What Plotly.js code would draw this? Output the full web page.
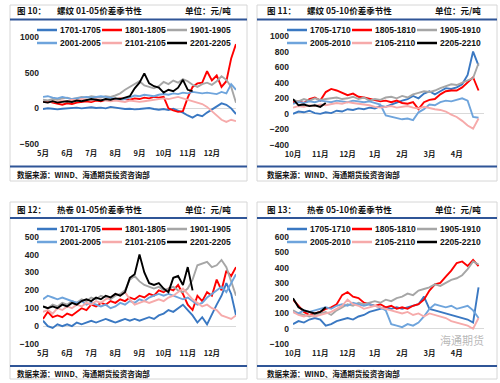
<!DOCTYPE html>
<html><head><meta charset="utf-8">
<script src="https://cdn.plot.ly/plotly-3.0.1.min.js"></script>
<style>html,body{margin:0;padding:0;background:#fff}#chart{width:500px;height:383px}</style>
</head><body><div id="chart"></div>
<script>
// ---------------- DATA ----------------
// labels
const labels0105 = ['1701-1705','1801-1805','1901-1905','2001-2005','2101-2105','2201-2205'];
const labels0510 = ['1705-1710','1805-1810','1905-1910','2005-2010','2105-2110','2205-2210'];
const figNums = ['图 10：','图 11：','图 12：','图 13：'];
const titles = ['螺纹 01-05价差季节性','螺纹 05-10价差季节性','热卷 01-05价差季节性','热卷 05-10价差季节性'];
const unitText = '单位：元/吨';
const sourceText = '数据来源：WIND、海通期货投资咨询部';
const watermark = '海通期货';
// month ticks (x in month units; 13-16 = next year's Jan-Apr)
const ticksA = [5,6,7,8,9,10,11,12];
const tickTextA = ['5月','6月','7月','8月','9月','10月','11月','12月'];
const ticksB = [10,11,12,13,14,15,16];
const tickTextB = ['10月','11月','12月','1月','2月','3月','4月'];

// Panel 1: 螺纹 01-05 (sampled every 0.2 month from May 1)
const p1_1701 = [-10,0,-5,-15,-5,0,5,10,0,10,15,5,10,0,20,10,0,-10,-5,-15,-10,-5,5,-10,-20,-10,-25,-5,-30,-60,-100,-130,-90,-110,-60,-20,30,70,50,0,-80];
const p1_1801 = [90,100,80,60,50,70,60,80,90,100,90,110,100,120,110,120,140,130,120,140,130,150,140,160,150,160,0,-30,-50,-40,150,300,350,360,520,390,460,300,380,700,900];
const p1_1901 = [120,110,130,120,140,150,130,150,160,150,170,160,150,170,160,180,210,260,300,330,380,320,300,280,310,370,340,390,360,410,380,330,300,340,360,330,380,450,400,300,80];
const p1_2001 = [160,170,150,140,160,150,130,140,150,160,150,160,170,160,150,140,120,130,150,180,170,190,180,170,190,200,190,210,200,220,210,230,220,210,220,210,200,230,210,340,260];
const p1_2101 = [90,80,100,90,110,100,120,110,130,120,110,130,120,110,100,110,100,90,110,100,90,100,110,120,130,140,130,150,160,140,120,100,80,60,20,-40,-110,-160,-190,-160,-180];
const p1_2201 = [90,80,100,80,90,100,90,110,100,120,130,120,110,130,120,140,130,150,170,280,360,490,350,310,290,220,260,240,290,400,260,240];

// Panel 2: 螺纹 05-10 (every 0.2 month from Oct 1)
const p2_1705 = [0,30,20,40,10,0,20,10,40,30,60,50,70,60,80,70,100,90,120,150,170,190,230,200,260,290,250,290,330,320,340,380,500,800,620];
const p2_1805 = [150,160,140,190,210,170,280,320,300,270,240,260,220,210,190,180,160,170,150,170,140,130,150,60,150,180,190,250,290,300,300,340,400,470,300];
const p2_1905 = [180,160,190,170,200,180,190,200,210,190,200,220,190,210,170,190,180,210,220,200,230,210,250,270,290,280,300,330,360,380,370,400,420,460,650];
const p2_2005 = [130,150,140,160,150,170,160,150,170,160,150,170,160,150,160,140,120,-20,-40,-50,-70,-60,-80,20,60,120,110,150,170,160,180,200,170,-40,-50];
const p2_2105 = [80,100,90,110,100,120,110,130,140,130,150,140,130,120,110,90,80,90,100,80,90,100,80,70,90,70,60,50,30,-10,-40,-90,-150,-190,-60];
const p2_2205 = [190,110,120,100,110,90,140];

// Panel 3: 热卷 01-05
const p3_1701 = [30,0,-10,10,0,10,0,20,10,20,30,20,30,40,30,20,30,40,30,40,30,40,50,40,60,70,90,80,100,120,90,60,20,50,10,70,120,170,240,180,60];
const p3_1801 = [40,80,50,60,50,70,60,80,100,90,120,110,130,120,140,130,150,140,160,150,170,160,180,170,200,190,210,200,230,180,120,90,170,140,190,170,260,200,310,280,330];
const p3_1901 = [110,100,120,110,130,120,140,130,150,140,160,150,170,160,150,170,180,200,260,280,250,230,220,210,220,200,210,220,200,190,210,260,340,350,360,330,340,370,330,250,170];
const p3_2001 = [150,170,160,150,160,150,140,130,140,120,130,120,110,120,100,110,130,120,140,130,150,140,160,170,180,170,180,170,160,150,160,140,120,130,160,180,200,220,190,240,290];
const p3_2101 = [80,90,70,100,90,110,100,120,110,130,120,140,130,150,160,180,170,190,150,120,130,140,130,140,150,140,160,170,190,210,180,150,130,110,120,100,90,60,50,40,60];
const p3_2201 = [110,100,110,100,120,110,130,120,140,150,140,160,150,170,160,180,170,190,270,290,400,300,240,230,240,210,190,270,280,230,330,200];

// Panel 4: 热卷 05-10
const p4_1705 = [30,50,40,60,70,60,20,30,50,60,70,60,80,90,110,120,130,140,130,140,130,140,150,160,210,130,120,110,100,90,80,70,60,40,270];
const p4_1805 = [190,150,110,90,100,110,130,140,160,220,240,210,200,170,160,150,160,140,150,130,140,130,150,160,190,250,290,300,340,380,430,440,410,450,410];
const p4_1905 = [120,100,90,80,90,100,110,90,120,140,160,150,170,160,170,180,170,190,180,200,210,230,220,250,260,270,290,280,300,320,330,350,390,440,420];
const p4_2005 = [110,100,120,110,120,130,140,130,150,160,150,170,160,150,160,150,140,120,30,20,10,30,20,40,80,130,160,150,140,150,130,140,150,120,70];
const p4_2105 = [110,90,80,90,80,90,100,110,130,150,190,160,150,130,140,150,140,130,120,110,100,110,90,100,80,100,90,80,70,50,40,30,20,0,70];
const p4_2205 = [200,140,120,110,100,110,140];

// ---------------- STYLE / LAYOUT ----------------
const W = 500, H = 383;
const px = x => x / W, py = y => 1 - y / H;
const colors = ['#3A78C2', '#FF0000', '#A6A6A6', '#6EA4DC', '#F6AAAA', '#000000'];
const navy = '#2F5597';
const frameCol = '#D6D6D6';
const latin = 'Liberation Sans, Arial, sans-serif';
const cjk = 'Noto Sans CJK SC, sans-serif';
const STEP = 0.2;

const panels = [
  {series:[p1_1701,p1_1801,p1_1901,p1_2001,p1_2101,p1_2201], labels:labels0105, x0:5, xr:[5,13], yr:[-500,1000], dt:500,
   tv:ticksA, tt:tickTextA, box:[43,236,37,144], frame:[10,5,247,181], hdr:10, l1:19.5, l2:166.5, src:174, legY:[30,43], legX:[37,102,167], left:15},
  {series:[p2_1705,p2_1805,p2_1905,p2_2005,p2_2105,p2_2205], labels:labels0510, x0:10, xr:[10,17], yr:[-400,1000], dt:200,
   tv:ticksB, tt:tickTextB, box:[293,484,36,145], frame:[257,5,497,181], hdr:10, l1:19.5, l2:166.5, src:174, legY:[30,43], legX:[287,352,417], left:265},
  {series:[p3_1701,p3_1801,p3_1901,p3_2001,p3_2101,p3_2201], labels:labels0105, x0:5, xr:[5,13], yr:[-100,500], dt:100,
   tv:ticksA, tt:tickTextA, box:[43,236,236.7,344], frame:[10,202,247,379], hdr:209, l1:218, l2:366, src:373, legY:[229,242], legX:[37,102,167], left:15},
  {series:[p4_1705,p4_1805,p4_1905,p4_2005,p4_2105,p4_2205], labels:labels0510, x0:10, xr:[10,17], yr:[-100,600], dt:100,
   tv:ticksB, tt:tickTextB, box:[293,484,237,344], frame:[257,202,497,379], hdr:209, l1:218, l2:366, src:373, legY:[229,242], legX:[287,352,417], left:265}
];

const traces = [], shapes = [], annotations = [];
const layout = {
  width: W, height: H, margin: {l:0, r:0, t:0, b:0},
  paper_bgcolor: '#fff', plot_bgcolor: 'rgba(0,0,0,0)', showlegend: false,
  shapes, annotations
};
const tickFont = {family: latin, size: 8.5, color: '#222', weight: 'bold'};
const cjkTickFont = {family: cjk, size: 7.5, color: '#222', weight: 'bold'};

panels.forEach((p, k) => {
  const n = k === 0 ? '' : String(k + 1);
  const xa = 'x' + n, ya = 'y' + n;
  p.series.forEach((vals, s) => {
    traces.push({
      type: 'scatter', mode: 'lines', xaxis: xa, yaxis: ya,
      x: vals.map((_, i) => +(p.x0 + STEP * i).toFixed(2)), y: vals,
      line: {color: colors[s], width: 1.9}, hoverinfo: 'skip', name: p.labels[s]
    });
  });
  layout['xaxis' + n] = {
    domain: [px(p.box[0]), px(p.box[1])], range: p.xr, anchor: ya,
    tickmode: 'array', tickvals: p.tv, ticktext: p.tt, tickfont: cjkTickFont,
    showgrid: false, zeroline: false, showline: false, ticks: '', ticklabelstandoff: 3, fixedrange: true
  };
  layout['yaxis' + n] = {
    domain: [py(p.box[3]), py(p.box[2])], range: p.yr, anchor: xa,
    tickmode: 'linear', tick0: p.yr[0], dtick: p.dt, tickfont: tickFont,
    showgrid: false, zeroline: true, zerolinecolor: '#D9D9D9', zerolinewidth: 1,
    showline: false, ticks: '', ticklabelstandoff: 3, fixedrange: true
  };
  // frame
  const [fx0, fy0, fx1, fy1] = p.frame;
  shapes.push({type:'rect', xref:'paper', yref:'paper', x0:px(fx0), x1:px(fx1), y0:py(fy1), y1:py(fy0),
    line:{color:frameCol, width:1}, layer:'below'});
  shapes.push({type:'line', xref:'paper', yref:'paper', x0:px(fx0), x1:px(fx1), y0:py(p.l1), y1:py(p.l1), line:{color:navy, width:2}});
  shapes.push({type:'line', xref:'paper', yref:'paper', x0:px(fx0), x1:px(fx1), y0:py(p.l2), y1:py(p.l2), line:{color:navy, width:2}});
  // header
  const hf = {family: cjk, size: 8.5, color: '#111', weight: 'bold'};
  annotations.push({xref:'paper', yref:'paper', x:px(p.left), y:py(p.hdr), xanchor:'left', yanchor:'middle', showarrow:false, text:figNums[k], font:hf});
  annotations.push({xref:'paper', yref:'paper', x:px(p.left + 40), y:py(p.hdr), xanchor:'left', yanchor:'middle', showarrow:false, text:titles[k], font:hf});
  annotations.push({xref:'paper', yref:'paper', x:px(fx1 - 14), y:py(p.hdr), xanchor:'right', yanchor:'middle', showarrow:false, text:unitText, font:hf});
  annotations.push({xref:'paper', yref:'paper', x:px(p.left), y:py(p.src), xanchor:'left', yanchor:'middle', showarrow:false, text:sourceText,
    font:{family: cjk, size: 7.5, color: '#111', weight: 'bold'}});
  // legend
  p.labels.forEach((lab, s) => {
    const row = Math.floor(s / 3), col = s % 3;
    const lx = p.legX[col], ly = p.legY[row];
    shapes.push({type:'line', xref:'paper', yref:'paper', x0:px(lx), x1:px(lx + 20), y0:py(ly), y1:py(ly), line:{color:colors[s], width:2.5}});
    annotations.push({xref:'paper', yref:'paper', x:px(lx + 21), y:py(ly), xanchor:'left', yanchor:'middle', showarrow:false, text:lab,
      font:{family: latin, size: 8.5, color: '#111', weight: 'bold'}});
  });
});
// watermark, placed inside the lower-right corner of the last plot so it clears the month labels
annotations.push({xref:'paper', yref:'paper', x:px(462), y:py(340), xanchor:'center', yanchor:'middle', showarrow:false, text:watermark,
  font:{family: cjk, size: 11, color: 'rgba(110,110,110,0.5)'}});

Plotly.newPlot('chart', traces, layout, {staticPlot: true, displayModeBar: false});
</script></body></html>
